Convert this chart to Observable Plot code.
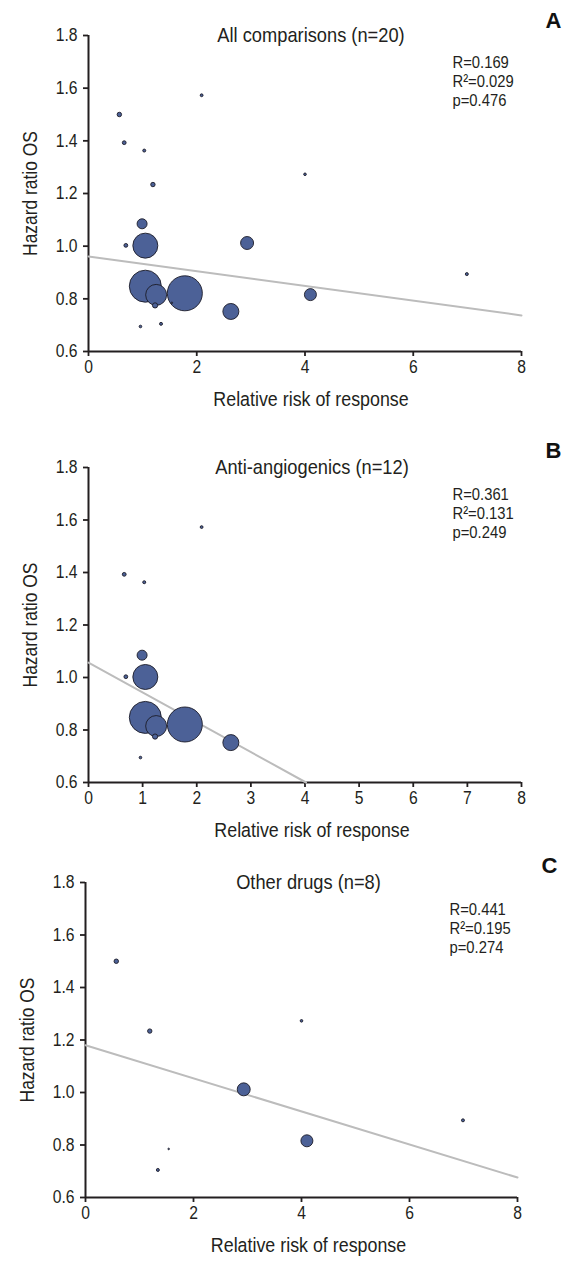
<!DOCTYPE html>
<html>
<head>
<meta charset="utf-8">
<script src="https://cdn.jsdelivr.net/npm/d3@7"></script>
<script src="https://cdn.jsdelivr.net/npm/@observablehq/plot@0.6"></script>
<style>
  body { margin: 0; background: #fff; }
  #chart { position: relative; width: 582px; height: 1267px; overflow: hidden; }
  .panel { position: absolute; left: 0; }
</style>
</head>
<body>
<div id="chart"></div>
<script>
// ---- Data ----
const studyRR     = [0.57, 0.66, 1.03, 2.09, 1.19, 4.00, 0.99, 0.69, 1.05, 2.93, 6.99, 1.05, 1.25, 1.78, 4.10, 2.63, 1.23, 0.96, 1.34, 1.54];
const studyHR     = [1.500, 1.393, 1.363, 1.573, 1.234, 1.273, 1.085, 1.003, 1.002, 1.012, 0.894, 0.848, 0.815, 0.821, 0.816, 0.752, 0.775, 0.695, 0.705, 0.785];
const studyWeight = [5, 3.6, 2.25, 2, 4.8, 1.7, 25, 3.6, 156, 42, 2.25, 256, 110, 306, 36, 64, 6.8, 1.7, 2.25, 0.64];
const studyGroup  = ["other","anti","anti","anti","other","other","anti","anti","anti","other","other","anti","anti","anti","other","anti","anti","anti","other","other"];

const panelIds     = ["A", "B", "C"];
const panelTitles  = ["All comparisons (n=20)", "Anti-angiogenics (n=12)", "Other drugs (n=8)"];
const panelGroups  = [["anti", "other"], ["anti"], ["other"]];
const panelR       = ["R=0.169", "R=0.361", "R=0.441"];
const panelR2      = ["R\u00B2=0.029", "R\u00B2=0.131", "R\u00B2=0.195"];
const panelP       = ["p=0.476", "p=0.249", "p=0.274"];
const fitIntercept = [0.961, 1.057, 1.180];
const fitSlope     = [-0.028, -0.1137, -0.063];
const xTickSets    = [[0, 2, 4, 6, 8], [0, 1, 2, 3, 4, 5, 6, 7, 8], [0, 2, 4, 6, 8]];
const yTicks       = [0.6, 0.8, 1.0, 1.2, 1.4, 1.6, 1.8];
const xDomain      = [0, 8];
const yDomain      = [0.6, 1.8];
const xLabel       = "Relative risk of response";
const yLabel       = "Hazard ratio OS";

// ---- Layout ----
const layout = [
  {top: 0,   height: 420, mt: 35, mb: 69, ml: 88, mr: 61},
  {top: 420, height: 430, mt: 47, mb: 68, ml: 88, mr: 61},
  {top: 850, height: 417, mt: 32, mb: 70, ml: 85, mr: 65}
];
const letterDy = [-15, -17, -17];
const titleDx = [6, 7, 7];

const FONT = "'Liberation Sans', Arial, sans-serif";
const INK = "#231f20";
const NARROW = 0.87; // condensed look of the original typeface

const studies = studyRR.map((rr, i) => ({rr, hr: studyHR[i], weight: studyWeight[i], group: studyGroup[i]}));

const chart = document.getElementById("chart");

panelIds.forEach((id, i) => {
  const L = layout[i];
  const data = studies.filter(d => panelGroups[i].includes(d.group));
  const b = fitIntercept[i], m = fitSlope[i];
  const xEnd = Math.min(xDomain[1], (yDomain[0] - b) / m);
  const fit = [{x: 0, y: b}, {x: xEnd, y: b + m * xEnd}];

  const plot = Plot.plot({
    width: 582,
    height: L.height,
    marginTop: L.mt,
    marginBottom: L.mb,
    marginLeft: L.ml,
    marginRight: L.mr,
    style: {fontFamily: FONT, fontSize: "18px", color: INK, background: "white", overflow: "visible"},
    x: {domain: xDomain},
    y: {domain: yDomain},
    r: {type: "sqrt", domain: [0, 306], range: [0, 17.5]},
    marks: [
      Plot.axisY({ticks: yTicks, tickFormat: d3.format(".1f"), tickSize: 5, tickPadding: 6, strokeWidth: 1.8, fontSize: 18, label: null}),
      Plot.axisX({ticks: xTickSets[i], tickFormat: d => String(d), tickSize: 5, tickPadding: 4, strokeWidth: 1.8, fontSize: 18, label: null}),
      Plot.ruleX([xDomain[0]], {stroke: INK, strokeWidth: 2}),
      Plot.ruleY([yDomain[0]], {stroke: INK, strokeWidth: 2}),
      Plot.line(fit, {x: "x", y: "y", stroke: "#bcbcbc", strokeWidth: 2}),
      Plot.dot(data, {x: "rr", y: "hr", r: "weight", fill: "#4c6197", stroke: "#1c1c28", strokeWidth: 0.9}),
      Plot.text([panelTitles[i]], {frameAnchor: "top", dx: titleDx[i], dy: 0, lineAnchor: "middle", fontSize: 21, fill: INK}),
      Plot.text([panelR[i]], {frameAnchor: "top-left", dx: 364, dy: 27, textAnchor: "start", lineAnchor: "middle", fontSize: 17, fill: INK}),
      Plot.text([panelR2[i]], {frameAnchor: "top-left", dx: 364, dy: 46, textAnchor: "start", lineAnchor: "middle", fontSize: 17, fill: INK}),
      Plot.text([panelP[i]], {frameAnchor: "top-left", dx: 364, dy: 65, textAnchor: "start", lineAnchor: "middle", fontSize: 17, fill: INK}),
      Plot.text([id], {frameAnchor: "top-right", dx: 32, dy: letterDy[i], lineAnchor: "middle", textAnchor: "middle", fontSize: 22, fontWeight: "bold", fill: "#111"}),
      Plot.text([xLabel], {frameAnchor: "bottom", dx: titleDx[i], dy: 48, lineAnchor: "middle", fontSize: 20.5, fill: INK}),
      Plot.text([yLabel], {frameAnchor: "left", dx: -58, rotate: -90, textAnchor: "middle", lineAnchor: "middle", fontSize: 20, fill: INK})
    ]
  });
  const wrap = document.createElement("div");
  wrap.className = "panel";
  wrap.style.top = L.top + "px";
  wrap.appendChild(plot);
  chart.appendChild(wrap);

  // give the regular text a condensed look like the original typeface
  plot.querySelectorAll("text").forEach(t => {
    if (panelIds.includes(t.textContent.trim())) return;
    const len = t.getComputedTextLength();
    if (len > 0) {
      t.setAttribute("textLength", (len * NARROW).toFixed(2));
      t.setAttribute("lengthAdjust", "spacingAndGlyphs");
    }
  });
});
</script>
</body>
</html>
